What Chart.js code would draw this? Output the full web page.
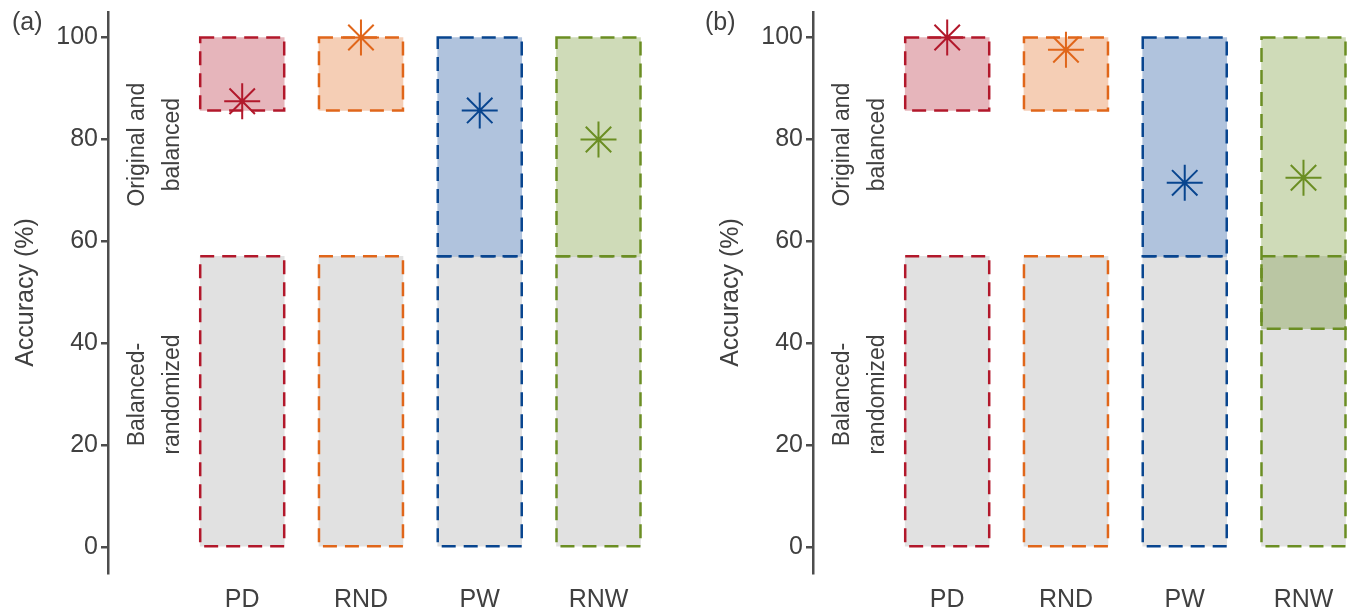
<!DOCTYPE html>
<html>
<head>
<meta charset="utf-8">
<script src="https://cdn.jsdelivr.net/npm/chart.js@4"></script>
<style>
  body { margin: 0; background: #fff; }
  .panel { position: absolute; top: 0; width: 646px; height: 612px; }
</style>
</head>
<body>
<div class="panel" style="left:0"><canvas id="chartA" width="646" height="612"></canvas></div>
<div class="panel" style="left:705px"><canvas id="chartB" width="646" height="612"></canvas></div>
<script>
const categories = ["PD", "RND", "PW", "RNW"];
const yTicks = [0, 20, 40, 60, 80, 100];
const groupLabels = [["Original and", "balanced"], ["Balanced-", "randomized"]];
const groupLabelAt = [79, 30];

// panel (a)
const randomA = [[0, 57.1], [0, 57.1], [0, 57.1], [0, 57.1]];
const originalA = [[85.7, 100], [85.7, 100], [57.1, 100], [57.1, 100]];
const accuracyA = [87.5, 100, 85.7, 80.0];

// panel (b)
const randomB = [[0, 57.1], [0, 57.1], [0, 57.1], [0, 57.1]];
const originalB = [[85.7, 100], [85.7, 100], [57.1, 100], [42.9, 100]];
const accuracyB = [100, 97.6, 71.5, 72.5];

const lineColors = ["#b2182b", "#e0661a", "#08458f", "#6b8e23"];
const fillColors = ["rgba(178,24,43,0.32)", "rgba(224,102,26,0.32)", "rgba(8,69,148,0.32)", "rgba(107,142,35,0.32)"];
const textColor = "#404040";
const axisColor = "#4d4d4d";

Chart.defaults.font.family = "'Liberation Sans', Arial, sans-serif";

// bars in Chart.js can't dash their border, so outline them here
const dashedBoxes = {
  id: "dashedBoxes",
  afterDatasetDraw(chart, args) {
    const ds = chart.data.datasets[args.index];
    if (!ds.dashColors) return;
    const ctx = chart.ctx;
    ctx.save();
    ctx.lineWidth = 2.5;
    ctx.setLineDash([14, 8]);
    args.meta.data.forEach((bar, i) => {
      const p = bar.getProps(["x", "y", "base", "width"], true);
      ctx.strokeStyle = ds.dashColors[i];
      ctx.strokeRect(p.x - p.width / 2, Math.min(p.y, p.base), p.width, Math.abs(p.base - p.y));
    });
    ctx.restore();
  }
};

const sideLabels = {
  id: "sideLabels",
  afterDraw(chart, args, opts) {
    const ctx = chart.ctx;
    const y = chart.scales.y;
    const left = chart.chartArea.left;
    ctx.save();
    ctx.fillStyle = textColor;
    ctx.font = "23px 'Liberation Sans', Arial, sans-serif";
    ctx.textAlign = "center";
    ctx.textBaseline = "middle";
    groupLabels.forEach((lines, g) => {
      const py = y.getPixelForValue(groupLabelAt[g]);
      lines.forEach((t, k) => {
        ctx.save();
        ctx.translate(left + 30 + k * 35, py);
        ctx.rotate(-Math.PI / 2);
        ctx.fillText(t, 0, 0);
        ctx.restore();
      });
    });
    ctx.font = "25px 'Liberation Sans', Arial, sans-serif";
    ctx.textAlign = "left";
    ctx.fillText(opts.tag, opts.tagX, 23);
    ctx.restore();
  }
};

function makeChart(id, tag, tagX, random, original, accuracy) {
  return new Chart(document.getElementById(id), {
    type: "bar",
    data: {
      datasets: [
        {
          type: "line",
          data: accuracy.map((v, i) => ({ x: i + 1, y: v })),
          showLine: false,
          pointStyle: "star",
          pointRadius: 18,
          pointBorderWidth: 2,
          pointBorderColor: lineColors,
          pointBackgroundColor: lineColors,
          clip: false,
          order: 0
        },
        {
          data: original.map((r, i) => ({ x: i + 1, y: r })),
          backgroundColor: fillColors,
          borderWidth: 0,
          dashColors: lineColors,
          order: 1
        },
        {
          data: random.map((r, i) => ({ x: i + 1, y: r })),
          backgroundColor: "#e1e1e1",
          borderWidth: 0,
          dashColors: lineColors,
          order: 2
        }
      ]
    },
    options: {
      responsive: false,
      animation: false,
      events: [],
      layout: { autoPadding: false, padding: { top: 12, left: 0, right: 0, bottom: 0 } },
      datasets: { bar: { grouped: false, barThickness: 84 } },
      plugins: {
        legend: { display: false },
        tooltip: { enabled: false },
        sideLabels: { tag: tag, tagX: tagX }
      },
      scales: {
        x: {
          type: "linear",
          offset: false,
          bounds: "data",
          min: -0.13,
          max: 4.4,
          afterBuildTicks: s => { s.ticks = categories.map((c, i) => ({ value: i + 1 })); },
          ticks: {
            callback: v => categories[Math.round(v) - 1],
            font: { size: 25 },
            color: textColor,
            padding: 12,
            maxRotation: 0
          },
          grid: { display: false, drawTicks: false },
          border: { display: false },
          afterFit: s => { s.height = 39; s.paddingLeft = 0; s.paddingRight = 0; }
        },
        y: {
          min: -5,
          max: 105,
          afterBuildTicks: s => { s.ticks = yTicks.map(v => ({ value: v })); },
          ticks: { font: { size: 25 }, color: textColor, padding: 3 },
          grid: { drawOnChartArea: false, drawTicks: true, tickLength: 7, color: axisColor, lineWidth: 2.5 },
          border: { display: true, color: axisColor, width: 2.5 },
          title: {
            display: true,
            text: "Accuracy (%)",
            font: { size: 25 },
            color: textColor,
            padding: { top: 11, bottom: 0 }
          },
          afterFit: s => { s.width = 108; s.paddingTop = 0; s.paddingBottom = 0; }
        }
      }
    },
    plugins: [dashedBoxes, sideLabels]
  });
}

makeChart("chartA", "(a)", 12, randomA, originalA, accuracyA);
makeChart("chartB", "(b)", 0, randomB, originalB, accuracyB);
</script>
</body>
</html>
